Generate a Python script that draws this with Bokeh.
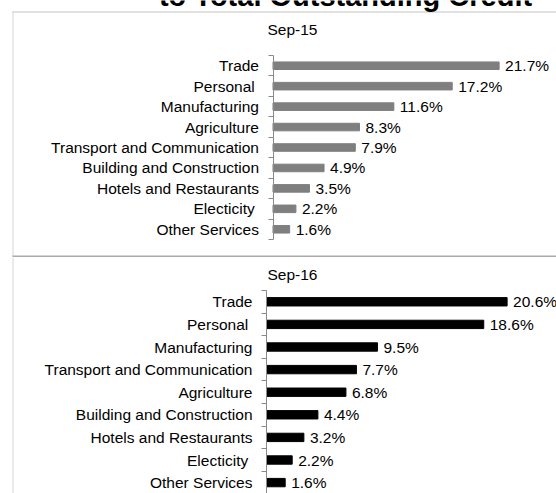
from bokeh.plotting import figure
from bokeh.layouts import column
from bokeh.models import Range1d, LinearAxis, FixedTicker, Label, ColumnDataSource
from bokeh.embed import file_html
from bokeh.resources import INLINE

# ---- data ----
title_text = "to Total Outstanding Credit"
period15 = "Sep-15"
cats15 = ["Trade", "Personal ", "Manufacturing", "Agriculture", "Transport and Communication",
          "Building and Construction", "Hotels and Restaurants", "Electicity ", "Other Services"]
vals15 = [21.7, 17.2, 11.6, 8.3, 7.9, 4.9, 3.5, 2.2, 1.6]
period16 = "Sep-16"
cats16 = ["Trade", "Personal ", "Manufacturing", "Transport and Communication", "Agriculture",
          "Building and Construction", "Hotels and Restaurants", "Electicity ", "Other Services"]
vals16 = [20.6, 18.6, 9.5, 7.7, 6.8, 4.4, 3.2, 2.2, 1.6]

FONT = "Liberation Sans"
FS = "15.5px"
W = 556


def panel(H, axis_x, sx, cat_top, row, cats, vals, bar_color, period, period_y,
          top_border=None, sep_y=None, caption=None):
    n = len(cats)
    x0 = -axis_x / sx
    x1 = (W - axis_x) / sx
    ytop = -cat_top / row - 0.5
    ybot = (H - cat_top) / row - 0.5

    def px(x):
        return (x - axis_x) / sx

    def py(y):
        return (y - cat_top) / row - 0.5

    p = figure(width=W, height=H, x_range=Range1d(x0, x1), y_range=Range1d(ybot, ytop),
               output_backend="svg", toolbar_location=None, min_border=0,
               x_axis_location=None, y_axis_location=None, outline_line_color=None,
               background_fill_color="white", border_fill_color="white")
    p.xgrid.visible = False
    p.ygrid.visible = False

    idx = list(range(n))
    src = ColumnDataSource(dict(y=idx, v=vals, lab=[f"{v:.1f}%" for v in vals]))
    p.hbar(y="y", left=0, right="v", height=0.37, color=bar_color, source=src)
    p.text(x="v", y="y", text="lab", x_offset=6, text_baseline="middle", text_align="left",
           text_font={"value": FONT}, text_font_size={"value": FS}, text_color="#000000", source=src)

    # panel frame lines (decoration)
    p.segment(x0=[px(12.5)], y0=[py(top_border if top_border is not None else 0)],
              x1=[px(12.5)], y1=[py(H)], line_color="#d4d4d4", line_width=1)
    if top_border is not None:
        p.segment(x0=[px(12)], y0=[py(top_border + 0.5)], x1=[px(W)], y1=[py(top_border + 0.5)],
                  line_color="#c4c4c4", line_width=1)
    if sep_y is not None:
        p.segment(x0=[px(12)], y0=[py(sep_y)], x1=[px(W)], y1=[py(sep_y)],
                  line_color="#a9a9a9", line_width=2)
    if caption is not None:
        p.add_layout(Label(x=px(345), y=py(-4.4), text=caption, text_align="center",
                           text_baseline="middle", text_font=FONT, text_font_size="29px",
                           text_font_style="bold", text_color="#000000"))
    p.add_layout(Label(x=px(292), y=py(period_y), text=period, text_align="center",
                       text_baseline="middle", text_font=FONT, text_font_size=FS,
                       text_color="#000000"))

    # category axis: boundary ticks + line
    tick_ax = LinearAxis(fixed_location=0, ticker=FixedTicker(ticks=[i - 0.5 for i in range(n + 1)]),
                         bounds=(-0.5, n - 0.5), major_tick_out=5, major_tick_in=0,
                         minor_tick_out=0, minor_tick_in=0, major_label_text_color=None,
                         axis_line_color="#8a8a8a", major_tick_line_color="#8a8a8a")
    lab_ax = LinearAxis(fixed_location=0, ticker=FixedTicker(ticks=idx),
                        major_label_overrides={i: c for i, c in enumerate(cats)},
                        major_tick_out=0, major_tick_in=0, minor_tick_out=0, minor_tick_in=0,
                        axis_line_color=None, major_tick_line_color=None,
                        major_label_standoff=14, major_label_text_font=FONT,
                        major_label_text_font_size=FS, major_label_text_color="#000000")
    p.add_layout(tick_ax, "left")
    p.add_layout(lab_ax, "left")
    return p


p1 = panel(H=257, axis_x=272.5, sx=10.42, cat_top=55, row=184 / 9, cats=cats15, vals=vals15,
           bar_color="#7f7f7f", period=period15, period_y=28.5, top_border=11, sep_y=256,
           caption=title_text)
p2 = panel(H=236, axis_x=266, sx=11.68, cat_top=33, row=22.6, cats=cats16, vals=vals16,
           bar_color="#000000", period=period16, period_y=16.8)

root = column(p1, p2, spacing=0, margin=(0, 0, 0, 0))
open("out.html", "w").write(file_html(root, INLINE))
